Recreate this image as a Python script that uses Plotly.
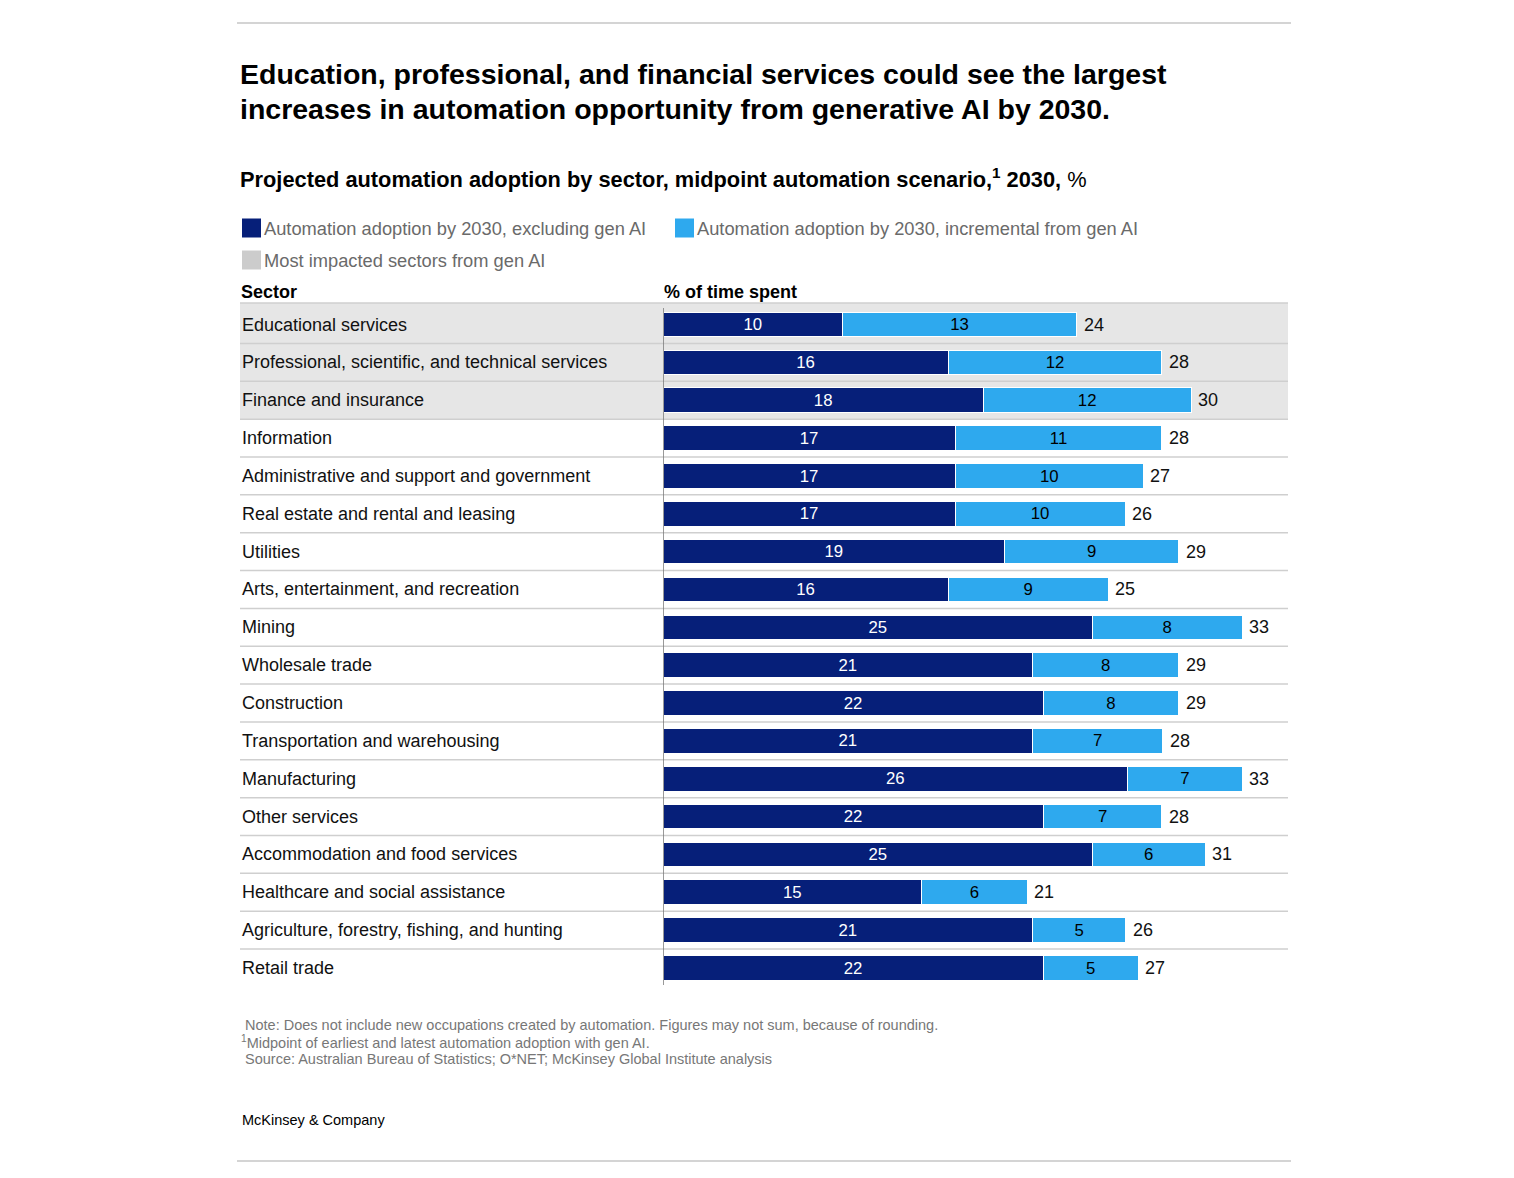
import plotly.graph_objects as go

W, H = 1514, 1178
OFF = 8  # default page body margin
FW, FH = W - 2 * OFF, H - 2 * OFF

sectors = [
    "Educational services",
    "Professional, scientific, and technical services",
    "Finance and insurance",
    "Information",
    "Administrative and support and government",
    "Real estate and rental and leasing",
    "Utilities",
    "Arts, entertainment, and recreation",
    "Mining",
    "Wholesale trade",
    "Construction",
    "Transportation and warehousing",
    "Manufacturing",
    "Other services",
    "Accommodation and food services",
    "Healthcare and social assistance",
    "Agriculture, forestry, fishing, and hunting",
    "Retail trade",
]
# estimated (unrounded) values
excl_gen_ai = [10.2, 16.2, 18.2, 16.6, 16.6, 16.6, 19.4, 16.2, 24.4, 21.0, 21.6, 21.0, 26.4, 21.6, 24.4, 14.7, 21.0, 21.6]
incr_gen_ai = [13.3, 12.15, 11.8, 11.75, 10.7, 9.65, 9.9, 9.1, 8.5, 8.3, 7.7, 7.4, 6.5, 6.75, 6.4, 6.0, 5.3, 5.4]
# labels as printed
excl_labels = [10, 16, 18, 17, 17, 17, 19, 16, 25, 21, 22, 21, 26, 22, 25, 15, 21, 22]
incr_labels = [13, 12, 12, 11, 10, 10, 9, 9, 8, 8, 8, 7, 7, 7, 6, 6, 5, 5]
total_labels = [24, 28, 30, 28, 27, 26, 29, 25, 33, 29, 29, 28, 33, 28, 31, 21, 26, 27]
highlighted = [True, True, True] + [False] * 15

DARK = "#061f79"
LIGHT = "#2ea9ee"
GRAYBG = "#e6e6e6"
FONT = "Liberation Sans"

def px(x):
    return (x - OFF) / FW

def py(y):
    return 1 - (y - OFF) / FH

fig = go.Figure()
fig.add_trace(go.Bar(
    y=sectors, x=excl_gen_ai, orientation="h", width=0.65,
    marker=dict(color=DARK, line=dict(color="white", width=1)),
    text=[str(v) for v in excl_labels], textposition="inside",
    insidetextanchor="middle", textangle=0,
    textfont=dict(color="white", size=18, family=FONT),
    name="Automation adoption by 2030, excluding gen AI", showlegend=False,
    hoverinfo="skip",
))
fig.add_trace(go.Bar(
    y=sectors, x=incr_gen_ai, orientation="h", width=0.65,
    marker=dict(color=LIGHT, line=dict(color="white", width=1)),
    text=[str(v) for v in incr_labels], textposition="inside",
    insidetextanchor="middle", textangle=0,
    textfont=dict(color="black", size=18, family=FONT),
    name="Automation adoption by 2030, incremental from gen AI", showlegend=False,
    hoverinfo="skip",
))

shapes = []
annotations = []
n = len(sectors)
x_left = px(240)
x_right = px(1288)

# gray highlight rows
n_hl = sum(highlighted)
shapes.append(dict(type="rect", xref="paper", yref="paper", x0=x_left, x1=x_right,
                   y0=py(303), y1=py(320), fillcolor=GRAYBG, line=dict(width=0),
                   layer="below"))
for i, h in enumerate(highlighted):
    if h:
        shapes.append(dict(type="rect", xref="paper", yref="y", x0=x_left, x1=x_right,
                           y0=i - 0.5, y1=i + 0.5, fillcolor=GRAYBG, line=dict(width=0),
                           layer="below"))
# header line
shapes.append(dict(type="line", xref="paper", yref="paper", x0=x_left, x1=x_right,
                   y0=py(303), y1=py(303), line=dict(color="#cfcfcf", width=1.5),
                   layer="below"))
# row separators
for i in range(1, n):
    shapes.append(dict(type="line", xref="paper", yref="y", x0=x_left, x1=x_right,
                       y0=i - 0.5, y1=i - 0.5, line=dict(color="#cfcfcf", width=1.5),
                       layer="below"))
# vertical zero line
shapes.append(dict(type="line", xref="x", yref="paper", x0=0, x1=0,
                   y0=py(985), y1=py(308), line=dict(color="#777777", width=1.5)))
# top & bottom rules
shapes.append(dict(type="line", xref="paper", yref="paper", x0=px(237), x1=px(1291),
                   y0=py(23), y1=py(23), line=dict(color="#aaaaaa", width=1.2)))
shapes.append(dict(type="line", xref="paper", yref="paper", x0=px(237), x1=px(1291),
                   y0=py(1161), y1=py(1161), line=dict(color="#aaaaaa", width=1.2)))

# sector labels and totals
for i, s in enumerate(sectors):
    annotations.append(dict(x=x_left, y=s, xref="paper", yref="y", text=s,
                            xanchor="left", yanchor="middle", showarrow=False,
                            font=dict(size=18, color="#111111", family=FONT)))
    annotations.append(dict(x=excl_gen_ai[i] + incr_gen_ai[i], y=s, xref="x", yref="y",
                            text=str(total_labels[i]), xanchor="left", yanchor="middle",
                            xshift=5, showarrow=False,
                            font=dict(size=18, color="#111111", family=FONT)))

# title (two lines)
title_lines = [
    (56, "<b>Education, professional, and financial services could see the largest</b>"),
    (91, "<b>increases in automation opportunity from generative AI by 2030.</b>"),
]
for yy, t in title_lines:
    annotations.append(dict(x=px(238), y=py(yy), xref="paper", yref="paper",
                            xanchor="left", yanchor="top", align="left", showarrow=False,
                            text=t, font=dict(size=28.5, color="black", family=FONT)))
# subtitle
annotations.append(dict(x=px(238), y=py(178), xref="paper", yref="paper",
                        xanchor="left", yanchor="middle", align="left", showarrow=False,
                        text="<b>Projected automation adoption by sector, midpoint automation scenario,<sup>1</sup> 2030,</b> %",
                        font=dict(size=21.8, color="black", family=FONT)))

# legend
legend_items = [
    (242, 228, DARK, "Automation adoption by 2030, excluding gen AI"),
    (675, 228, LIGHT, "Automation adoption by 2030, incremental from gen AI"),
    (242, 260, "#cccccc", "Most impacted sectors from gen AI"),
]
for x0, yc, col, lab in legend_items:
    shapes.append(dict(type="rect", xref="paper", yref="paper",
                       x0=px(x0), x1=px(x0 + 19), y0=py(yc + 9.5), y1=py(yc - 9.5),
                       fillcolor=col, line=dict(width=0)))
    annotations.append(dict(x=px(x0 + 20), y=py(yc), xref="paper", yref="paper",
                            xanchor="left", yanchor="middle", showarrow=False, text=lab,
                            font=dict(size=18.3, color="#6a6a6a", family=FONT)))

# column headers
annotations.append(dict(x=px(239), y=py(292), xref="paper", yref="paper", xanchor="left",
                        yanchor="middle", showarrow=False, text="<b>Sector</b>",
                        font=dict(size=18, color="black", family=FONT)))
annotations.append(dict(x=px(662), y=py(292), xref="paper", yref="paper", xanchor="left",
                        yanchor="middle", showarrow=False, text="<b>% of time spent</b>",
                        font=dict(size=18, color="black", family=FONT)))

# footnotes
notes = [
    (1025, 243, "Note: Does not include new occupations created by automation. Figures may not sum, because of rounding."),
    (1042, 239, "<sup>1</sup>Midpoint of earliest and latest automation adoption with gen AI."),
    (1059, 243, "Source: Australian Bureau of Statistics; O*NET; McKinsey Global Institute analysis"),
]
for yy, xx, t in notes:
    annotations.append(dict(x=px(xx), y=py(yy), xref="paper", yref="paper", xanchor="left",
                            yanchor="middle", showarrow=False, text=t,
                            font=dict(size=14.5, color="#777777", family=FONT)))
annotations.append(dict(x=px(240), y=py(1120), xref="paper", yref="paper", xanchor="left",
                        yanchor="middle", showarrow=False, text="McKinsey &amp; Company",
                        font=dict(size=14.5, color="black", family=FONT)))

fig.update_layout(
    width=FW, height=FH,
    margin=dict(l=0, r=0, t=0, b=0),
    paper_bgcolor="white", plot_bgcolor="rgba(0,0,0,0)",
    barmode="stack",
    xaxis=dict(domain=[px(663), px(1288)], range=[0, 625 / 17.6], visible=False,
               fixedrange=True),
    yaxis=dict(domain=[py(986.9), py(305.6)], range=[n - 0.5, -0.5], visible=False,
               fixedrange=True, type="category", categoryorder="array",
               categoryarray=sectors),
    shapes=shapes, annotations=annotations,
    font=dict(family=FONT),
)

fig.write_html("out.html")
